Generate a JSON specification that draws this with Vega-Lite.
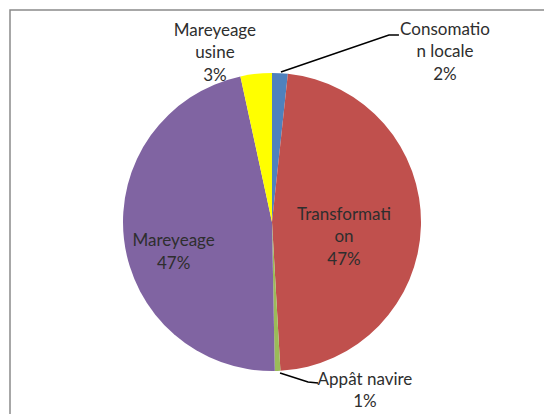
{
  "$schema": "https://vega.github.io/schema/vega-lite/v6.json",
  "autosize": "none",
  "width": 600,
  "height": 424,
  "padding": {"left": 10, "top": 10, "right": 0, "bottom": 0},
  "background": "#ffffff",
  "config": {
    "view": {"stroke": "#8a8a8a", "strokeWidth": 1.5},
    "text": {"font": "Lato", "fontSize": 17, "color": "#2e2e2e", "lineBreak": "\n", "lineHeight": 22.5}
  },
  "datasets": {
    "parts": [
      {"categorie": "Consomation locale", "valeur": 1.7, "ordre": 1},
      {"categorie": "Transformation", "valeur": 47.4, "ordre": 2},
      {"categorie": "Appât navire", "valeur": 0.6, "ordre": 3},
      {"categorie": "Mareyeage", "valeur": 46.9, "ordre": 4},
      {"categorie": "Mareyeage usine", "valeur": 3.4, "ordre": 5}
    ],
    "etiquettes": [
      {"texte": "Consomatio\nn locale\n2%", "lx": 1.161, "ly": 1.289},
      {"texte": "Transformati\non\n47%", "lx": 0.483, "ly": 0.047},
      {"texte": "Appât navire\n1%", "lx": 0.624, "ly": -1.060},
      {"texte": "Mareyeage\n47%", "lx": -0.66, "ly": -0.128},
      {"texte": "Mareyeage\nusine\n3%", "lx": -0.383, "ly": 1.282}
    ],
    "repères": [
      {"ligne": "Consomation locale", "k": 1, "lx": 0.060, "ly": 1.007},
      {"ligne": "Consomation locale", "k": 2, "lx": 0.785, "ly": 1.255},
      {"ligne": "Consomation locale", "k": 3, "lx": 0.852, "ly": 1.255},
      {"ligne": "Appât navire", "k": 1, "lx": 0.054, "ly": -1.013},
      {"ligne": "Appât navire", "k": 2, "lx": 0.242, "ly": -1.074},
      {"ligne": "Appât navire", "k": 3, "lx": 0.309, "ly": -1.081}
    ]
  },
  "layer": [
    {
      "data": {"name": "parts"},
      "mark": {
        "type": "arc",
        "x": {"expr": "scale('x', 0)"},
        "y": {"expr": "scale('y', 0)"},
        "outerRadius": {"expr": "scale('x', 1) - scale('x', 0)"}
      },
      "encoding": {
        "theta": {"field": "valeur", "type": "quantitative", "stack": true},
        "order": {"field": "ordre", "type": "quantitative"},
        "color": {
          "field": "categorie",
          "type": "nominal",
          "legend": null,
          "scale": {
            "domain": ["Consomation locale", "Transformation", "Appât navire", "Mareyeage", "Mareyeage usine"],
            "range": ["#4f81bd", "#c0504d", "#9bbb59", "#8064a2", "#ffff00"]
          }
        }
      }
    },
    {
      "data": {"name": "repères"},
      "mark": {"type": "line", "color": "#000000", "strokeWidth": 1.5},
      "encoding": {
        "x": {"field": "lx", "type": "quantitative", "axis": null, "scale": {"domain": [-1.7584, 2.2685], "nice": false, "zero": false}},
        "y": {"field": "ly", "type": "quantitative", "axis": null, "scale": {"domain": [-1.4228, 1.4228], "nice": false, "zero": false}},
        "detail": {"field": "ligne"},
        "order": {"field": "k", "type": "quantitative"}
      }
    },
    {
      "data": {"name": "etiquettes"},
      "mark": {"type": "text", "align": "center", "baseline": "middle"},
      "encoding": {
        "x": {"field": "lx", "type": "quantitative"},
        "y": {"field": "ly", "type": "quantitative"},
        "text": {"field": "texte"}
      }
    }
  ]
}
